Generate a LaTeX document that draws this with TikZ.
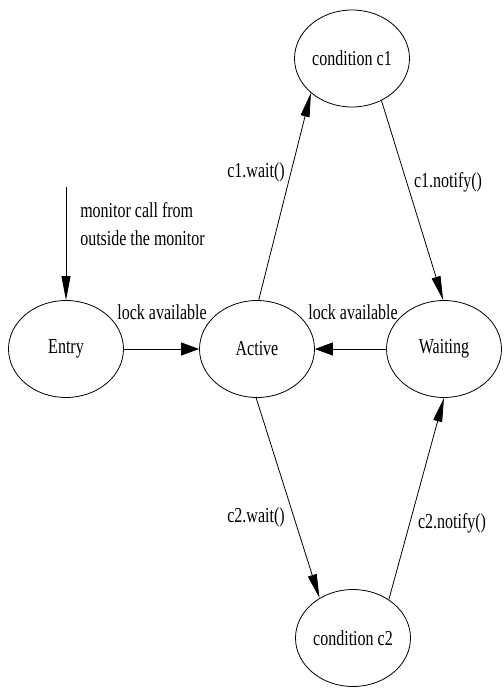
\documentclass[tikz,border=0pt]{standalone}
\usepackage{fontspec}
\setmainfont{Liberation Serif}[FakeStretch=0.75]
\usetikzlibrary{shapes.geometric,arrows.meta}

\begin{document}
\begin{tikzpicture}[
    x=0.75pt, y=-0.75pt,
    font=\fontsize{16}{21}\selectfont,
    state/.style={ellipse, draw, line width=0.6pt, inner sep=0pt,
                  minimum width=86.25pt, minimum height=72.75pt},
    lbl/.style={inner sep=0pt},
    flow/.style={line width=0.6pt},
    htip/.style={flow, -{Triangle[length=13.5pt, width=9.75pt]}},
    vtip/.style={flow, -{Triangle[length=18pt, width=6.75pt]}},
  ]
  \useasboundingbox (0,0) rectangle (503,688);

  % states
  \node[state] (entry)   at (66,349)   {Entry};
  \node[state] (active)  at (257,349)  {Active};
  \node[state] (waiting) at (444,349)  {Waiting};
  \node[state] (cond1)   at (352,58.5) {condition c1};
  \node[state] (cond2)   at (353,638)  {condition c2};

  % external call into the monitor
  \coordinate (caller) at (66,187);
  \draw[vtip] (caller) -- (entry.north);
  \node[lbl, anchor=west, align=left] (calltxt) at (80,224)
    {monitor call from\\outside the monitor};

  % acquiring the lock
  \draw[htip] (entry.east) -- (active.west);
  \node[lbl] (lockA) at (162,312) {lock available};
  \draw[htip] (waiting.west) -- (active.east);
  \node[lbl] (lockB) at (353,312) {lock available};

  % condition c1
  \draw[vtip] (active.88) -- (cond1.220);
  \node[lbl] (wait1) at (256,172) {c1.wait()};
  \draw[vtip] (cond1.305) -- (waiting.91);
  \node[lbl] (notify1) at (448,182) {c1.notify()};

  % condition c2
  \draw[vtip] (active.269) -- (cond2.130);
  \node[lbl] (wait2) at (256,517) {c2.wait()};
  \draw[vtip] (cond2.47) -- (waiting.270);
  \node[lbl] (notify2) at (452,523) {c2.notify()};
\end{tikzpicture}
\end{document}
